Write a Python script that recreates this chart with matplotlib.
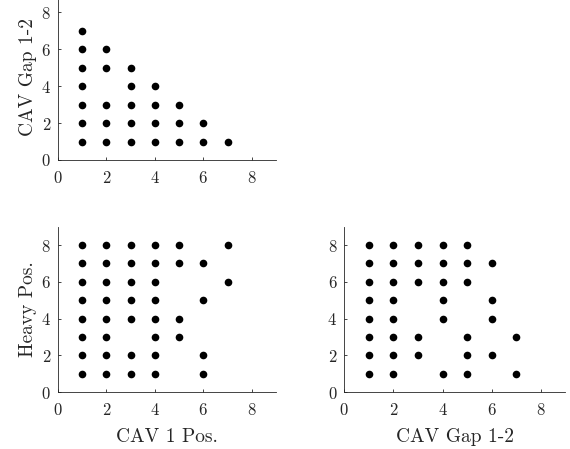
"""Pairwise position scatter (CAV 1 pos., CAV gap, heavy vehicle pos.)."""
import matplotlib
matplotlib.use("Agg")
import matplotlib.pyplot as plt

plt.rcParams["font.family"] = "cmr10"
plt.rcParams["axes.formatter.use_mathtext"] = True
plt.rcParams["mathtext.fontset"] = "cm"

# panel 1: CAV 1 Pos. vs CAV Gap 1-2
p1_x = [1, 1, 1, 1, 1, 1, 1, 2, 2, 2, 2, 2, 3, 3, 3, 3, 3, 4, 4, 4, 4, 5, 5, 5, 6, 6, 7]
p1_y = [1, 2, 3, 4, 5, 6, 7, 1, 2, 3, 5, 6, 1, 2, 3, 4, 5, 1, 2, 3, 4, 1, 2, 3, 1, 2, 1]

# panel 2: CAV 1 Pos. vs Heavy Pos. (listed row by row, top to bottom)
p2_rows = {
    8: [1, 2, 3, 4, 5, 7],
    7: [1, 2, 3, 4, 5, 6],
    6: [1, 2, 3, 4, 7],
    5: [1, 2, 3, 4, 6],
    4: [1, 2, 3, 4, 5],
    3: [1, 2, 4, 5],
    2: [1, 2, 3, 4, 6],
    1: [1, 2, 3, 4, 6],
}

# panel 3: CAV Gap 1-2 vs Heavy Pos.
p3_rows = {
    8: [1, 2, 3, 4, 5],
    7: [1, 2, 3, 4, 5, 6],
    6: [1, 2, 3, 4, 5],
    5: [1, 2, 4, 6],
    4: [1, 2, 4, 6],
    3: [1, 2, 3, 5, 7],
    2: [1, 2, 3, 5, 6],
    1: [1, 2, 4, 5, 7],
}

ticks = [0, 2, 4, 6, 8]


def rows_to_xy(rows):
    xs, ys = [], []
    for y, xlist in rows.items():
        xs += xlist
        ys += [y] * len(xlist)
    return xs, ys


def style(ax):
    ax.set_xlim(0, 9)
    ax.set_ylim(0, 9)
    ax.set_xticks(ticks)
    ax.set_yticks(ticks)
    for side in ("top", "right"):
        ax.spines[side].set_visible(False)
    for side in ("left", "bottom"):
        ax.spines[side].set_color("#262626")
        ax.spines[side].set_linewidth(0.6)
    ax.tick_params(direction="in", length=2.5, width=0.6, color="#262626",
                   labelsize=12, labelcolor="#262626")
    ax.tick_params(axis="x", pad=7)
    ax.tick_params(axis="y", pad=5)


fig = plt.figure(figsize=(5.7, 4.49), dpi=100)
W, H = 570, 449


def axes_px(left, bottom, width, height):
    return fig.add_axes([left / W, (H - bottom) / H, width / W, height / H])


ax1 = axes_px(58, 160, 218, 166)
ax2 = axes_px(58, 392.3, 218, 165.7)
ax3 = axes_px(344.3, 392.3, 221, 165.7)

ms = 5.5
ax1.plot(p1_x, p1_y, "o", color="black", ms=ms, mew=0)
x2, y2 = rows_to_xy(p2_rows)
ax2.plot(x2, y2, "o", color="black", ms=ms, mew=0)
x3, y3 = rows_to_xy(p3_rows)
ax3.plot(x3, y3, "o", color="black", ms=ms, mew=0)

for ax in (ax1, ax2, ax3):
    style(ax)

lab = dict(fontsize=14, color="#262626")
ax1.set_ylabel("CAV Gap 1-2", labelpad=3, **lab)
ax2.set_ylabel("Heavy Pos.", labelpad=3, **lab)
ax2.set_xlabel("CAV 1 Pos.", labelpad=7, **lab)
ax3.set_xlabel("CAV Gap 1-2", labelpad=7, **lab)

fig.savefig("out.png", dpi=100)
